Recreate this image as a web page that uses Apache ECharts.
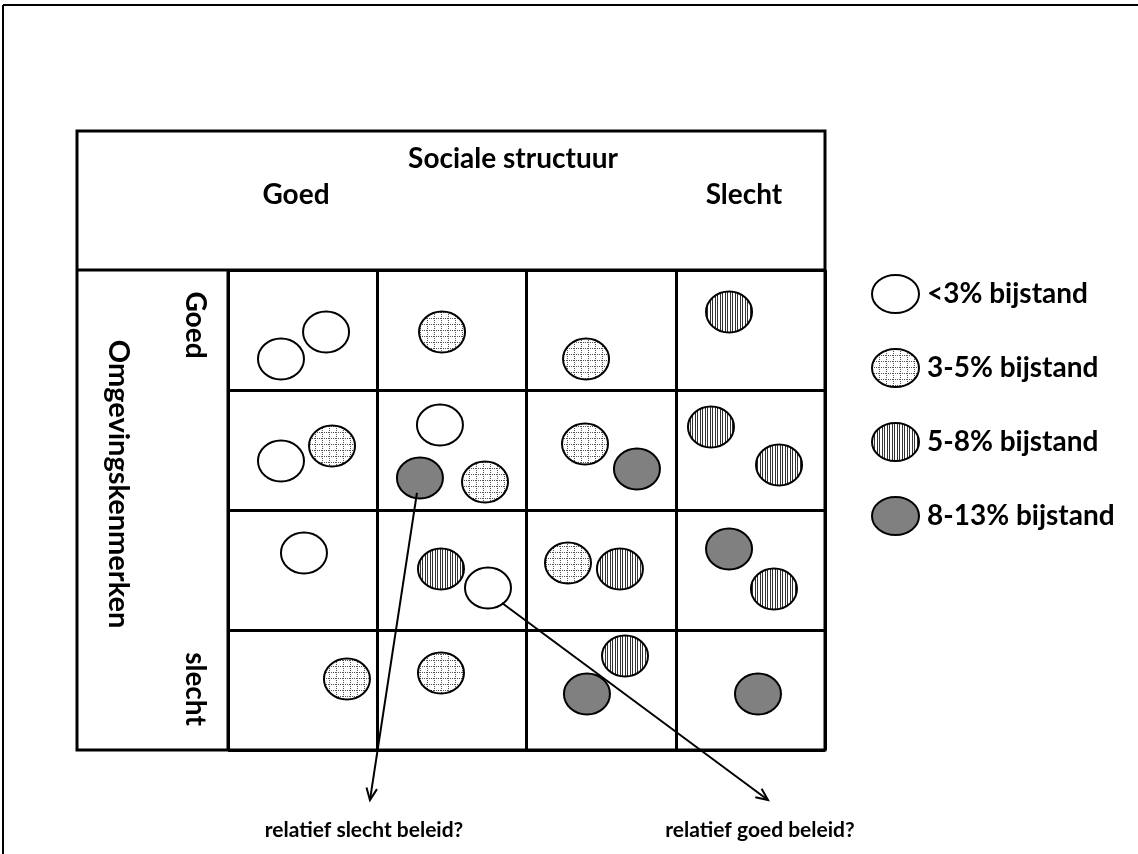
<!DOCTYPE html>
<html><head><meta charset="utf-8">
<script src="https://cdn.jsdelivr.net/npm/echarts@6/dist/echarts.min.js"></script>
<style>html,body{margin:0;padding:0;background:#fff}#c{width:1138px;height:854px}</style>
</head><body><div id="c"></div>
<script>
// ---- data ----
const colTitle = 'Sociale structuur';
const colLabels = ['Goed', 'Slecht'];
const rowTitle = 'Omgevingskenmerken';
const rowLabels = ['Goed', 'slecht'];
const categories = ['<3% bijstand', '3-5% bijstand', '5-8% bijstand', '8-13% bijstand'];
// positions: [column position, row position] in cell units (0..4)
const lowPts = [[0.355,0.742],[0.657,0.517],[0.355,1.592],[1.420,1.292],[0.509,2.358],[1.742,2.650]];
const midPts = [[1.434,0.517],[2.399,0.742],[0.697,1.467],[1.722,1.767],[2.392,1.450],[2.278,2.442],[0.797,3.408],[1.427,3.358]];
const highPts = [[3.357,0.350],[3.236,1.308],[3.692,1.625],[1.427,2.492],[2.626,2.492],[3.658,2.658],[2.660,3.217]];
const topPts = [[1.286,1.733],[2.740,1.658],[3.357,2.325],[2.405,3.533],[3.551,3.533]];
const arrows = [[1.266,1.858,0.951,4.417],[1.836,2.775,3.618,4.417]];
const arrowLabels = ['relatief slecht beleid?', 'relatief goed beleid?'];

// ---- patterns ----
function makePattern(kind) {
  const c = document.createElement('canvas');
  const ctx = c.getContext('2d');
  if (kind === 'dots') {
    c.width = 7; c.height = 6;
    ctx.fillStyle = '#fff'; ctx.fillRect(0, 0, 7, 6);
    ctx.fillStyle = '#555';
    for (let y = 0; y < 6; y += 2) ctx.fillRect(0, y, 1, 1);
    for (let x = 2; x < 7; x += 2) ctx.fillRect(x, 0, 1, 1);
  } else {
    c.width = 5; c.height = 2;
    ctx.fillStyle = '#fff'; ctx.fillRect(0, 0, 5, 2);
    ctx.fillStyle = '#333'; ctx.fillRect(0, 0, 1, 2); ctx.fillRect(2, 0, 1, 2);
  }
  return { image: c, repeat: 'repeat' };
}
const fills = ['#ffffff', makePattern('dots'), makePattern('stripes'), '#808080'];
const pointSets = [lowPts, midPts, highPts, topPts];

const FONT = 'Lato';
function ellipseItem(fill) {
  return function (params, api) {
    const p = api.coord([api.value(0), api.value(1)]);
    return {
      type: 'ellipse',
      shape: { cx: p[0], cy: p[1], rx: 23, ry: 20.5 },
      style: { fill: fill, stroke: '#000', lineWidth: 2 }
    };
  };
}

const drawOrder = [2, 1, 0, 3];
const series = drawOrder.map(i => ({
  type: 'custom', name: categories[i], clip: false,
  itemStyle: { color: fills[i], borderColor: '#000', borderWidth: 2 },
  data: pointSets[i],
  encode: { x: 0, y: 1 },
  renderItem: ellipseItem(fills[i]),
  z: 3
}));
series.push({
  type: 'custom', name: 'arrows', clip: false, z: 4,
  data: arrows, encode: { x: [0, 2], y: [1, 3] },
  renderItem: function (params, api) {
    const a = api.coord([api.value(0), api.value(1)]);
    const b = api.coord([api.value(2), api.value(3)]);
    const ang = Math.atan2(b[1] - a[1], b[0] - a[0]);
    const L = 13, w = 0.42;
    const p1 = [b[0] - L * Math.cos(ang - w), b[1] - L * Math.sin(ang - w)];
    const p2 = [b[0] - L * Math.cos(ang + w), b[1] - L * Math.sin(ang + w)];
    return { type: 'group', children: [
      { type: 'line', shape: { x1: a[0], y1: a[1], x2: b[0], y2: b[1] }, style: { stroke: '#000', lineWidth: 2 } },
      { type: 'polyline', shape: { points: [p1, b, p2] }, style: { stroke: '#000', lineWidth: 2, fill: null } }
    ] };
  }
});

const txt = (x, y, text, size, extra) => Object.assign({
  type: 'text', x: x, y: y, z: 10,
  style: { text: text, fill: '#000', font: 'bold ' + size + 'px ' + FONT, textAlign: 'center', textVerticalAlign: 'middle' }
}, extra || {});

const chart = echarts.init(document.getElementById('c'), null, { renderer: 'canvas' });
chart.setOption({
  backgroundColor: '#fff',
  animation: false,
  grid: { left: 228, top: 270, width: 597, height: 480 },
  xAxis: { type: 'value', min: 0, max: 4, interval: 1,
    axisLine: { show: false }, axisTick: { show: false }, axisLabel: { show: false },
    splitLine: { show: true, lineStyle: { color: '#000', width: 3 } } },
  yAxis: { type: 'value', min: 0, max: 4, interval: 1, inverse: true,
    axisLine: { show: false }, axisTick: { show: false }, axisLabel: { show: false },
    splitLine: { show: true, lineStyle: { color: '#000', width: 3 } } },
  legend: {
    orient: 'vertical', left: 866, top: 269,
    data: categories, itemWidth: 47, itemHeight: 38, itemGap: 34,
    icon: 'path://M0,19 A23.5,19 0 1,1 47,19 A23.5,19 0 1,1 0,19 Z',
    itemStyle: { borderColor: '#000', borderWidth: 2 },
    textStyle: { fontFamily: FONT, fontWeight: 'bold', fontSize: 28, color: '#000', padding: [0, 0, 0, 3] },
    selectedMode: false
  },
  graphic: [
    { type: 'line', shape: { x1: 3, y1: 5, x2: 1138, y2: 5 }, style: { stroke: '#000', lineWidth: 2 } },
    { type: 'line', shape: { x1: 3, y1: 5, x2: 3, y2: 854 }, style: { stroke: '#000', lineWidth: 2 } },
    { type: 'rect', shape: { x: 77, y: 131, width: 748, height: 619 }, style: { fill: null, stroke: '#000', lineWidth: 3 }, z: 5 },
    { type: 'line', shape: { x1: 77, y1: 270, x2: 825, y2: 270 }, style: { stroke: '#000', lineWidth: 3 }, z: 5 },
    { type: 'line', shape: { x1: 228, y1: 270, x2: 228, y2: 750 }, style: { stroke: '#000', lineWidth: 3 }, z: 5 },
    txt(513, 159, colTitle, 28),
    txt(296, 195, colLabels[0], 28),
    txt(744, 195, colLabels[1], 28),
    txt(118, 484, rowTitle, 29, { rotation: -Math.PI / 2 }),
    txt(195, 325, rowLabels[0], 28, { rotation: -Math.PI / 2 }),
    txt(195, 689, rowLabels[1], 28, { rotation: -Math.PI / 2 }),
    txt(364, 830, arrowLabels[0], 21),
    txt(760, 830, arrowLabels[1], 21)
  ],
  series: series
});
</script></body></html>
